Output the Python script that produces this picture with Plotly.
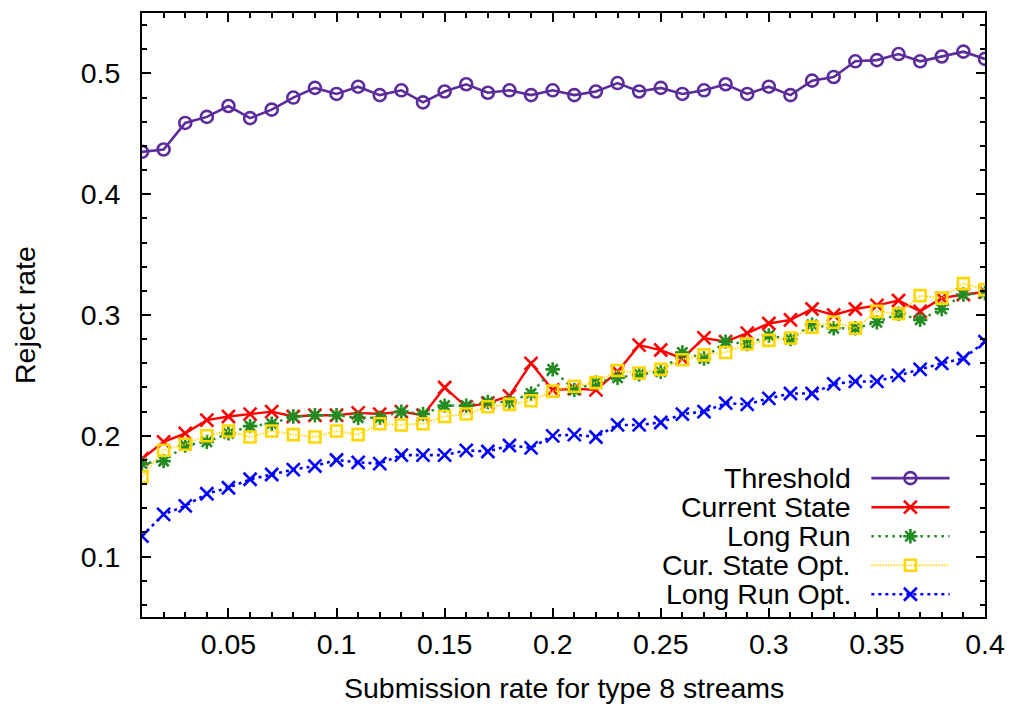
import plotly.graph_objects as go

# Submission rate for type 8 streams (x) and reject rate of each policy (y)
rate = [round(0.01 * i, 2) for i in range(1, 41)]

threshold = [0.435, 0.437, 0.459, 0.464, 0.473, 0.463, 0.470, 0.480, 0.488, 0.483,
             0.489, 0.482, 0.486, 0.476, 0.485, 0.491, 0.484, 0.486, 0.482, 0.486,
             0.482, 0.485, 0.492, 0.485, 0.488, 0.483, 0.486, 0.491, 0.483, 0.489,
             0.482, 0.494, 0.497, 0.510, 0.511, 0.516, 0.510, 0.514, 0.518, 0.512]

current_state = [0.181, 0.195, 0.202, 0.213, 0.216, 0.218, 0.220, 0.216, 0.217, 0.217,
                 0.219, 0.218, 0.220, 0.217, 0.240, 0.224, 0.227, 0.233, 0.260, 0.238,
                 0.239, 0.238, 0.253, 0.275, 0.271, 0.264, 0.281, 0.278, 0.285, 0.293,
                 0.296, 0.305, 0.300, 0.305, 0.308, 0.312, 0.303, 0.314, 0.317, 0.319]

long_run = [0.177, 0.179, 0.192, 0.195, 0.202, 0.208, 0.210, 0.216, 0.217, 0.217,
            0.215, 0.215, 0.220, 0.218, 0.225, 0.225, 0.228, 0.228, 0.235, 0.255,
            0.238, 0.244, 0.248, 0.251, 0.253, 0.269, 0.264, 0.278, 0.276, 0.283,
            0.280, 0.292, 0.289, 0.289, 0.294, 0.301, 0.296, 0.305, 0.317, 0.318]

cur_state_opt = [0.166, 0.188, 0.193, 0.200, 0.204, 0.199, 0.204, 0.201, 0.199, 0.204,
                 0.201, 0.210, 0.209, 0.210, 0.216, 0.218, 0.224, 0.226, 0.229, 0.237,
                 0.241, 0.244, 0.254, 0.252, 0.255, 0.263, 0.267, 0.269, 0.276, 0.279,
                 0.281, 0.290, 0.294, 0.289, 0.303, 0.301, 0.316, 0.314, 0.326, 0.321]

long_run_opt = [0.117, 0.135, 0.142, 0.152, 0.157, 0.164, 0.168, 0.172, 0.175, 0.180,
                0.178, 0.177, 0.184, 0.184, 0.184, 0.188, 0.187, 0.192, 0.190, 0.200,
                0.201, 0.199, 0.209, 0.209, 0.211, 0.218, 0.220, 0.227, 0.226, 0.231,
                0.235, 0.235, 0.243, 0.245, 0.245, 0.250, 0.255, 0.260, 0.264, 0.278]

x_tick_vals = [0.05, 0.10, 0.15, 0.20, 0.25, 0.30, 0.35, 0.40]
x_tick_text = ["0.05", "0.1", "0.15", "0.2", "0.25", "0.3", "0.35", "0.4"]
y_tick_vals = [0.1, 0.2, 0.3, 0.4, 0.5]
y_tick_text = ["0.1", "0.2", "0.3", "0.4", "0.5"]

FONT = "Liberation Sans, Arial, sans-serif"
FSIZE = 28.5

series = [
    dict(name="Threshold", y=threshold, color="#5b2c9a", dash="solid", lw=2.6,
         symbol="circle-open", size=12),
    dict(name="Current State", y=current_state, color="#ff0000", dash="solid", lw=2.4,
         symbol="x-thin-open", size=13),
    dict(name="Long Run", y=long_run, color="#228b22", dash="2.5px,4.5px", lw=2.4,
         symbol="asterisk-open", size=12),
    dict(name="Cur. State Opt.", y=cur_state_opt, color="#ffd700", dash="1.3px,1.5px", lw=2,
         symbol="square-open", size=11),
    dict(name="Long Run Opt.", y=long_run_opt, color="#0000ff", dash="3px,4px", lw=2.6,
         symbol="x-thin-open", size=13),
]

fig = go.Figure()

for s in series:
    fig.add_trace(go.Scatter(
        x=rate, y=s["y"], mode="lines+markers", name=s["name"],
        line=dict(color=s["color"], width=s["lw"], dash=s["dash"]),
        marker=dict(symbol=s["symbol"], size=s["size"], color=s["color"],
                    line=dict(color=s["color"], width=2.6)),
        showlegend=False,
    ))

# gnuplot-style key: right-aligned labels with the line sample to their right,
# drawn on an overlay axis spanning the plot area in [0, 1] units
key_text_x = 0.8438
key_line = (0.8652, 0.958)
key_mark_x = 0.9115
key_rows = [0.2299, 0.1818, 0.1337, 0.0857, 0.0376]

annotations = []
for s, ky in zip(series, key_rows):
    fig.add_trace(go.Scatter(
        x=[key_line[0], key_line[1]], y=[ky, ky], mode="lines",
        line=dict(color=s["color"], width=s["lw"], dash=s["dash"]),
        xaxis="x2", yaxis="y2", showlegend=False, hoverinfo="skip",
    ))
    fig.add_trace(go.Scatter(
        x=[key_mark_x], y=[ky], mode="markers",
        marker=dict(symbol=s["symbol"], size=s["size"], color=s["color"],
                    line=dict(color=s["color"], width=2.6)),
        xaxis="x2", yaxis="y2", showlegend=False, hoverinfo="skip",
    ))
    annotations.append(dict(
        x=key_text_x, y=ky, xref="paper", yref="paper", text=s["name"],
        showarrow=False, xanchor="right", yanchor="middle",
        font=dict(family=FONT, size=FSIZE, color="black"),
    ))

annotations.append(dict(
    x=0.5, y=0, xref="paper", yref="paper", yshift=-71, text="Submission rate for type 8 streams",
    showarrow=False, xanchor="center", yanchor="middle",
    font=dict(family=FONT, size=FSIZE, color="black"),
))
annotations.append(dict(
    x=0, y=0.5, xref="paper", yref="paper", xshift=-117, text="Reject rate", textangle=-90,
    showarrow=False, xanchor="center", yanchor="middle",
    font=dict(family=FONT, size=FSIZE, color="black"),
))

axis_common = dict(
    showline=True, linecolor="black", linewidth=2, mirror="allticks",
    ticks="inside", tickcolor="black", tickwidth=1.5, ticklen=9,
    showgrid=False, zeroline=False,
    tickfont=dict(family=FONT, size=FSIZE, color="black"),
)

fig.update_layout(
    width=1018, height=709,
    margin=dict(l=142, r=33, t=13, b=92),
    paper_bgcolor="white", plot_bgcolor="white",
    showlegend=False,
    xaxis=dict(
        range=[0.01, 0.4], tickmode="array", tickvals=x_tick_vals, ticktext=x_tick_text,
        ticklabelstandoff=1,
        minor=dict(tickmode="linear", tick0=0.01, dtick=0.01, ticks="inside",
                   ticklen=5, tickcolor="black", tickwidth=1.5, showgrid=False),
        **axis_common,
    ),
    yaxis=dict(
        range=[0.05, 0.55], tickmode="array", tickvals=y_tick_vals, ticktext=y_tick_text,
        ticklabelstandoff=14,
        minor=dict(tickmode="linear", tick0=0.1, dtick=0.02, ticks="inside",
                   ticklen=5, tickcolor="black", tickwidth=1.5, showgrid=False),
        **axis_common,
    ),
    xaxis2=dict(range=[0, 1], overlaying="x", visible=False, fixedrange=True),
    yaxis2=dict(range=[0, 1], overlaying="y", visible=False, fixedrange=True),
    annotations=annotations,
)

fig.write_html("out.html")
